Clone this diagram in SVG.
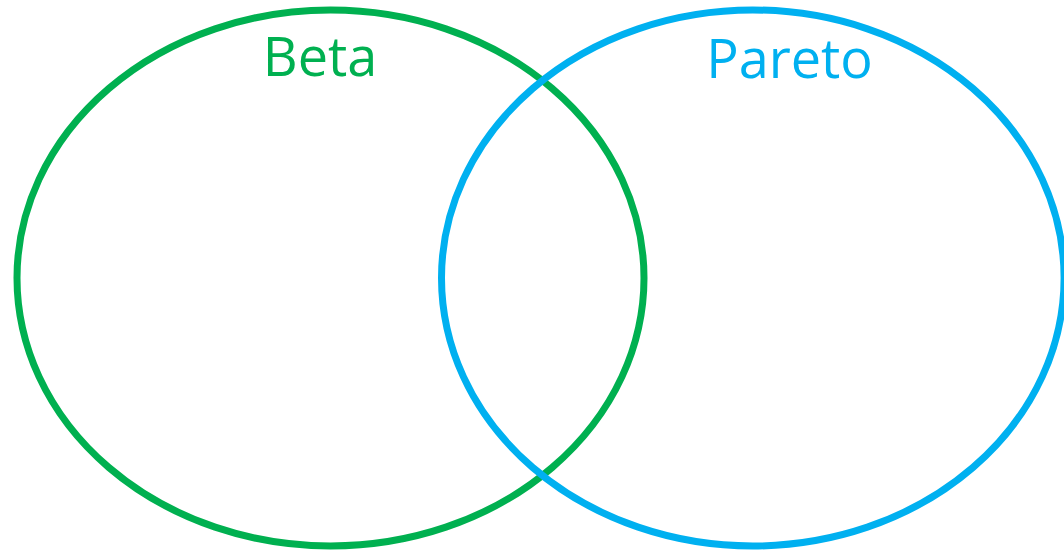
<svg xmlns="http://www.w3.org/2000/svg" width="1064" height="550" viewBox="0 0 1064 550">
  <style>
    .set { fill: none; stroke-width: 7; }
    .label { font-family: "Open Sans", "Liberation Sans", sans-serif; font-size: 54px; text-anchor: middle; }
  </style>
  <rect width="1064" height="550" fill="#ffffff"/>
  <g id="beta">
    <ellipse class="set" cx="330.5" cy="278" rx="313.5" ry="268" stroke="#00B050"/>
    <text class="label" x="320" y="76" fill="#00B050">Beta</text>
  </g>
  <g id="pareto">
    <ellipse class="set" cx="752.8" cy="278" rx="311.3" ry="268" stroke="#00B0F0"/>
    <text class="label" x="789.5" y="78" fill="#00B0F0">Pareto</text>
  </g>
</svg>
